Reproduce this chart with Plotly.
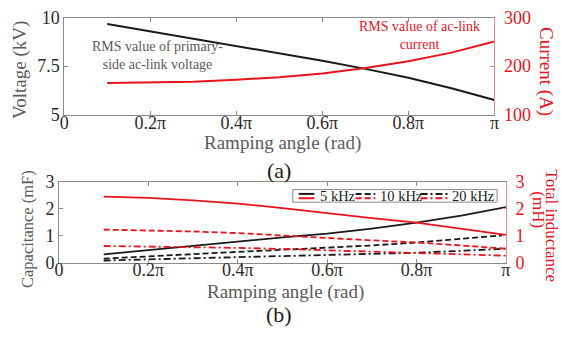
import plotly.graph_objects as go

W, H = 562, 343

# ---------------- data ----------------
angle = [0.1, 0.2, 0.3, 0.4, 0.5, 0.6, 0.7, 0.8, 0.9, 1.0]          # in units of pi
voltage_kv = [9.68, 9.30, 8.92, 8.53, 8.14, 7.78, 7.36, 6.90, 6.36, 5.75]
current_a = [165, 166, 168, 172, 177, 185, 196, 210, 228, 251]

cap_5k = [0.31, 0.47, 0.63, 0.79, 0.94, 1.08, 1.27, 1.49, 1.75, 2.07]
cap_10k = [0.15, 0.24, 0.32, 0.40, 0.48, 0.55, 0.64, 0.75, 0.88, 1.03]
cap_20k = [0.08, 0.12, 0.16, 0.20, 0.24, 0.28, 0.32, 0.37, 0.44, 0.52]
ind_5k = [2.46, 2.41, 2.32, 2.20, 2.03, 1.84, 1.66, 1.49, 1.27, 1.03]
ind_10k = [1.23, 1.20, 1.16, 1.10, 1.02, 0.92, 0.83, 0.75, 0.64, 0.52]
ind_20k = [0.62, 0.60, 0.58, 0.55, 0.51, 0.46, 0.42, 0.37, 0.32, 0.26]

x_tickvals = [0, 0.2, 0.4, 0.6, 0.8, 1.0]
x_ticktext = ["0", "0.2π", "0.4π", "0.6π", "0.8π", "π"]
freq_labels = ["5 kHz", "10 kHz", "20 kHz"]

# ---------------- style ----------------
FONT = "'Liberation Serif', 'Times New Roman', 'DejaVu Serif', serif"
BLACK = "#1a1a1a"
RED = "#e8141c"
GRAY_AX = "#8a8a8a"
RED_AX = "#f08a8a"
TXT_GRAY = "#5a5a5a"
TICK_TXT = "#2a2a2a"
DASHES = ["solid", "6px,3px", "7px,3px,2px,3px"]


def px(x):
    return x / W


def py(y):
    return 1 - y / H


fig = go.Figure()

# top panel
fig.add_trace(go.Scatter(x=angle, y=voltage_kv, mode="lines", xaxis="x", yaxis="y",
                         line=dict(color=BLACK, width=2), showlegend=False))
fig.add_trace(go.Scatter(x=angle, y=current_a, mode="lines", xaxis="x", yaxis="y2",
                         line=dict(color=RED, width=2), showlegend=False))

# bottom panel
for vals, d in zip([cap_5k, cap_10k, cap_20k], DASHES):
    fig.add_trace(go.Scatter(x=angle, y=vals, mode="lines", xaxis="x2", yaxis="y3",
                             line=dict(color=BLACK, width=1.8, dash=d), showlegend=False))
for vals, d in zip([ind_5k, ind_10k, ind_20k], DASHES):
    fig.add_trace(go.Scatter(x=angle, y=vals, mode="lines", xaxis="x2", yaxis="y4",
                             line=dict(color=RED, width=1.8, dash=d), showlegend=False))

tickfont = dict(family=FONT, size=18, color=TICK_TXT)

xcommon = dict(range=[0, 1], tickvals=x_tickvals, ticktext=x_ticktext, showgrid=False,
               zeroline=False, showline=True, linecolor=GRAY_AX, linewidth=1,
               mirror="ticks", ticks="inside", ticklen=4, tickcolor=GRAY_AX,
               tickfont=tickfont)

top_dom = [py(111), py(8.3)]
bot_dom = [py(268.3), py(182.7)]

fig.update_layout(
    width=W, height=H,
    margin=dict(l=0, r=0, t=0, b=0),
    paper_bgcolor="white", plot_bgcolor="white",
    xaxis=dict(domain=[px(60.3), px(498.3)], anchor="y", ticklabelstandoff=-8, **xcommon),
    xaxis2=dict(domain=[px(55), px(510)], anchor="y3", ticklabelstandoff=-9, **xcommon),
    yaxis=dict(domain=top_dom, anchor="x", range=[5, 10], tickvals=[5, 7.5, 10],
               ticktext=["5", "7.5", "10"], showgrid=False, zeroline=False,
               showline=True, linecolor=GRAY_AX, ticks="inside", ticklen=4,
               tickcolor=GRAY_AX, tickfont=tickfont),
    yaxis2=dict(domain=top_dom, anchor="x", overlaying="y", side="right",
                range=[100, 300], tickvals=[100, 200, 300], showgrid=False,
                zeroline=False, showline=True, linecolor=RED_AX, ticks="inside",
                ticklen=4, tickcolor=RED_AX, ticklabelstandoff=5,
                tickfont=dict(family=FONT, size=18, color=RED)),
    yaxis3=dict(domain=bot_dom, anchor="x2", range=[0, 3], tickvals=[0, 1, 2, 3],
                showgrid=False, zeroline=False, showline=True, linecolor=GRAY_AX,
                ticks="inside", ticklen=4, tickcolor=GRAY_AX, tickfont=tickfont),
    yaxis4=dict(domain=bot_dom, anchor="x2", overlaying="y3", side="right",
                range=[0, 3], tickvals=[0, 1, 2, 3], showgrid=False, zeroline=False,
                showline=True, linecolor=RED_AX, ticks="inside", ticklen=4,
                tickcolor=RED_AX, ticklabelstandoff=5,
                tickfont=dict(family=FONT, size=18, color=RED)),
)

annotations = []


def note(text, x, y, size, color, angle=0, xanchor="center", align="center"):
    annotations.append(dict(text=text, x=px(x), y=py(y), xref="paper", yref="paper",
                            showarrow=False, textangle=angle, xanchor=xanchor,
                            yanchor="middle", align=align,
                            font=dict(family=FONT, size=size, color=color)))


# top panel texts
note("Voltage (kV)", 16, 64, 19, TXT_GRAY, angle=-90)
note("Current (A)", 551, 65, 19, RED, angle=90)
note("Ramping angle (rad)", 282.5, 141.7, 19, TXT_GRAY)
note("(a)", 279, 170, 22, BLACK)
note("RMS value of primary-<br>side ac-link voltage", 155, 48, 14, TXT_GRAY)
note("RMS value of ac-link<br>current", 421.5, 27, 14, RED)

# bottom panel texts
note("Capacitance (mF)", 23, 233, 16.5, TXT_GRAY, angle=-90)
note("Total inductance", 556, 229, 17, RED, angle=90)
note("(mH)", 543, 212, 17, RED, angle=90)
note("Ramping angle (rad)", 285.5, 299, 19, TXT_GRAY)
note("(b)", 279, 323, 22, BLACK)

# legend (custom: black + red sample per frequency)
shapes = [dict(type="rect", xref="paper", yref="paper", x0=px(293), x1=px(501),
               y0=py(204), y1=py(190.7), line=dict(color=GRAY_AX, width=1),
               fillcolor="white", layer="above")]
samples = [(299, 315, 319), (357, 377, 380), (423, 451, 453)]
for (x0, x1, xt), d, lab in zip(samples, DASHES, freq_labels):
    for yy, col in [(195.3, BLACK), (199.9, RED)]:
        shapes.append(dict(type="line", xref="paper", yref="paper", x0=px(x0), x1=px(x1),
                           y0=py(yy), y1=py(yy), line=dict(color=col, width=2, dash=d),
                           layer="above"))
    note(lab, xt, 197.5, 14.5, BLACK, xanchor="left")

fig.update_layout(annotations=annotations, shapes=shapes)

fig.write_html("out.html")
